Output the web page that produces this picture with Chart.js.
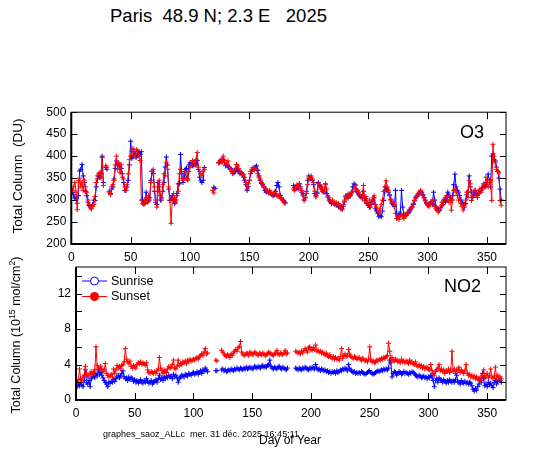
<!DOCTYPE html>
<html>
<head>
<meta charset="utf-8">
<script src="https://cdn.jsdelivr.net/npm/chart.js@4.4.1/dist/chart.umd.min.js"></script>
<style>
  body { margin:0; background:#fff; width:540px; height:453px; overflow:hidden; position:relative;
         font-family: Arial, "Liberation Sans", sans-serif; color:#000; }
  canvas { position:absolute; left:0; }
  .t { position:absolute; white-space:pre; line-height:1; }
  .rot { transform: translate(-50%,-50%) rotate(-90deg); }
  sup { font-size:0.7em; line-height:0; }
</style>
</head>
<body>
<div class="t" style="left:110px;top:7px;font-size:18.5px">Paris  48.9 N; 2.3 E   2025</div>
<canvas id="o3" width="540" height="170" style="top:100px"></canvas>
<canvas id="no2" width="540" height="175" style="top:250px"></canvas>
<div class="t rot" style="left:18px;top:176px;font-size:13.5px">Total Column  (DU)</div>
<div class="t rot" style="left:16px;top:335px;font-size:12.5px">Total Column (10<sup>15</sup> mol/cm<sup>2</sup>)</div>
<div class="t" style="left:103px;top:430px;font-size:9px">graphes_saoz_ALLc  mer. 31 déc. 2025 16:45:11</div>
<div class="t" style="left:290px;top:434px;font-size:12px;transform:translateX(-50%)">Day of Year</div>

<script>
// day of year of the first value in each series
const FIRST_DAY = 1;

// axis ticks
const dayTicks = [0, 50, 100, 150, 200, 250, 300, 350];
const o3Ticks = [200, 250, 300, 350, 400, 450, 500];
const no2Ticks = [0, 2, 4, 6, 8, 10, 12, 14];
const no2Labels = [0, 4, 8, 12];

// O3 total column (DU)
const o3Sunset = [
  322,330,340,318,278,344,350,330,340,322,
  345,330,318,300,290,282,280,286,290,308,
  340,355,360,363,350,397,333,null,378,375,
  null,318,312,330,335,345,380,400,370,385,
  362,380,352,348,330,322,335,360,392,400,
  410,418,405,398,415,412,400,390,300,292,
  290,300,305,295,310,300,340,365,370,330,
  300,284,320,345,310,300,335,360,355,385,
  370,330,300,247,300,315,305,295,310,320,
  360,370,350,345,365,360,350,345,365,375,
  380,390,385,380,392,408,375,365,360,355,
  366,370,null,null,null,null,null,null,322,316,
  null,null,null,385,389,392,385,400,390,380,
  385,389,375,370,365,362,368,370,381,378,
  372,365,362,360,358,352,340,325,337,345,
  365,370,374,368,372,370,360,352,348,340,
  337,330,328,325,320,318,322,316,314,312,
  318,315,310,308,312,305,303,300,295,292,
  null,null,null,null,null,null,325,322,330,335,
  330,337,325,322,310,300,305,315,335,350,
  352,355,348,340,320,307,315,338,335,325,
  330,318,320,335,325,310,305,298,295,300,
  292,290,295,288,292,285,280,278,290,300,
  310,305,314,308,312,316,320,329,333,325,
  322,318,312,305,310,333,300,308,295,290,
  300,284,292,305,310,290,284,275,272,280,
  290,300,320,330,344,330,322,310,300,292,
  295,288,270,258,262,256,265,268,262,258,
  262,268,272,270,278,282,285,292,300,305,
  310,314,318,322,316,310,305,298,292,288,
  285,290,295,300,292,285,280,276,273,278,
  284,295,290,300,306,310,300,295,310,277,
  300,322,325,318,310,300,305,292,285,277,
  290,300,318,306,344,337,299,310,320,322,
  310,306,318,325,318,325,337,330,352,340,
  330,340,345,299,427,400,385,370,366,362,
  299,288
];
const o3Sunrise = [
  318,312,305,303,293,310,366,370,381,355,
  340,320,310,295,288,285,285,290,300,299,
  330,348,355,352,360,400,340,null,374,370,
  null,320,315,325,330,348,372,389,378,382,
  375,372,360,340,322,322,330,345,380,434,
  395,400,410,405,398,402,410,404,410,300,
  295,292,318,300,298,305,345,366,360,320,
  295,290,340,330,300,305,320,340,375,398,
  380,325,299,305,310,300,292,300,315,337,
  337,404,360,340,350,370,372,348,380,385,
  382,378,380,385,380,390,370,352,344,340,
  345,374,null,null,null,null,null,null,null,329,
  326,null,null,385,385,388,393,392,385,378,
  381,375,374,372,366,360,362,365,372,368,
  366,360,362,358,352,345,335,322,330,345,
  360,366,370,372,375,378,368,355,345,338,
  335,330,322,318,320,316,318,314,312,310,
  312,320,333,340,330,310,305,300,298,295,
  null,null,null,null,null,null,333,328,325,330,
  325,337,330,318,314,300,306,320,345,355,
  348,350,345,335,315,310,318,340,333,330,
  325,320,318,337,315,307,300,296,292,295,
  295,292,288,290,285,288,282,280,286,296,
  307,310,305,312,310,318,330,337,335,320,
  318,312,310,308,305,320,298,303,292,288,
  284,290,296,300,305,280,275,270,262,265,
  262,275,299,320,329,325,318,312,302,295,
  290,285,322,258,262,270,266,322,284,268,
  264,266,270,272,275,280,284,290,298,306,
  308,312,316,320,318,312,306,300,294,290,
  288,292,296,290,318,300,286,280,278,276,
  282,288,295,302,296,300,318,310,306,300,
  310,335,359,330,322,318,310,300,295,290,
  284,292,312,318,355,330,318,306,312,322,
  315,310,316,318,322,328,332,335,330,340,
  359,345,330,400,405,392,389,375,365,350,
  325,300
];

// NO2 total column (1e15 mol/cm2)
const no2Sunset = [
  2.0,2.3,3.5,2.4,2.2,2.6,2.8,3.8,3.0,2.6,
  2.8,3.0,3.2,2.9,3.1,3.4,6.0,3.9,3.6,3.4,
  3.8,3.5,3.2,3.4,4.1,3.0,2.8,2.6,2.7,2.9,
  2.6,3.5,3.0,3.4,3.9,3.6,3.8,3.5,3.9,4.0,
  4.3,5.8,4.6,4.3,4.1,4.4,3.8,3.6,3.9,3.7,
  3.6,4.0,4.2,4.1,4.3,4.0,4.2,4.1,3.9,4.2,
  3.4,3.1,3.0,3.2,3.1,3.0,3.2,3.0,3.3,3.5,
  4.8,3.6,3.3,3.0,3.4,3.2,3.1,3.5,3.8,3.6,
  3.7,4.0,4.5,3.6,3.5,3.8,4.5,3.9,4.1,4.0,
  4.3,4.2,4.4,4.1,4.5,4.3,4.6,4.4,4.5,4.6,
  4.5,4.7,4.8,4.6,4.9,5.0,5.2,5.0,5.4,5.8,
  5.2,5.3,null,null,null,null,null,null,4.5,4.4,
  null,null,null,5.6,5.4,5.2,5.0,4.9,5.1,5.0,
  4.8,5.2,5.0,5.3,5.5,5.7,5.5,5.9,6.0,6.6,
  5.4,5.2,5.0,5.1,5.3,5.2,5.0,5.4,5.3,5.1,
  5.2,5.4,5.3,5.2,5.0,5.3,5.2,5.1,5.3,5.2,
  5.0,5.1,5.2,5.4,5.3,5.2,5.1,5.0,5.2,5.3,
  5.6,5.2,5.1,5.3,5.2,5.1,5.3,5.6,5.2,5.3,
  null,null,null,null,null,null,5.5,5.4,5.3,5.4,
  5.2,5.5,5.3,5.6,5.8,5.6,5.4,5.9,6.0,5.7,
  5.6,5.9,5.7,6.2,5.5,5.6,5.4,5.5,5.3,5.4,
  5.2,5.1,5.3,5.0,4.9,5.1,4.8,4.7,4.9,4.6,
  4.8,4.6,4.7,4.5,4.9,5.8,4.7,5.0,5.2,4.9,
  5.0,5.7,5.2,4.9,4.8,4.7,4.9,4.8,4.6,4.7,
  4.8,4.6,4.5,4.7,4.6,4.4,4.5,4.3,4.6,6.0,
  4.5,4.3,4.4,4.2,4.3,4.5,4.4,4.6,4.5,4.7,
  4.6,4.8,4.7,4.9,5.0,6.4,5.5,4.4,4.8,4.5,
  4.4,4.6,4.5,4.3,4.4,4.2,4.6,4.3,4.4,4.2,
  4.4,4.3,4.1,4.5,4.2,4.3,4.1,4.0,4.3,3.9,
  3.8,4.0,3.7,3.9,3.6,3.8,3.5,3.7,3.6,3.5,
  3.4,4.0,3.3,3.0,2.8,3.2,3.4,3.6,4.0,3.3,
  3.5,3.2,3.4,3.0,3.3,3.2,3.5,3.1,3.4,5.5,
  3.2,3.5,3.0,3.4,3.3,3.7,3.1,3.4,3.2,3.0,
  3.3,4.0,3.0,2.8,2.9,2.6,2.8,2.5,2.7,2.4,
  2.6,2.3,2.5,2.2,2.6,2.8,3.4,2.5,2.7,3.0,
  2.5,2.8,3.5,2.6,2.4,2.7,3.7,2.5,2.8,2.3,
  2.6,2.4
];
const no2Sunrise = [
  1.5,1.8,1.6,2.0,1.7,1.5,2.2,3.4,2.0,1.8,
  2.2,1.5,2.4,2.6,2.8,2.5,3.0,2.7,3.4,2.9,
  3.1,2.8,2.5,2.2,2.0,1.8,1.5,2.0,1.9,2.1,
  2.0,2.3,2.1,2.4,2.6,2.8,2.5,2.7,3.0,3.3,
  2.6,2.4,2.5,2.2,2.6,2.3,2.5,2.4,2.1,2.3,
  2.0,2.2,1.9,2.1,2.3,2.0,1.9,2.2,2.0,2.4,
  2.1,1.9,2.0,2.2,1.8,2.0,2.1,2.3,2.0,2.4,
  2.8,2.3,2.5,2.2,2.6,2.4,2.7,2.5,2.8,2.6,
  2.7,2.4,2.9,2.6,2.8,2.5,2.0,2.4,2.6,2.8,
  2.7,2.6,2.9,2.8,2.7,3.0,2.9,2.8,3.0,3.1,
  2.9,3.0,3.2,2.9,3.1,3.3,3.0,3.4,3.2,3.6,
  3.4,3.2,null,null,null,null,null,null,3.3,3.3,
  null,null,null,3.4,3.5,3.3,3.4,3.2,3.3,3.4,
  3.3,3.5,3.4,3.3,3.5,3.4,3.6,3.5,3.4,3.6,
  3.5,3.4,3.6,3.5,3.7,3.5,3.6,3.7,3.6,3.5,
  3.6,3.8,3.7,3.6,3.8,3.7,3.6,3.8,3.9,3.7,
  3.8,3.7,3.9,4.0,4.5,3.8,3.6,3.5,3.7,3.6,
  3.5,3.7,3.8,3.6,3.5,3.7,3.6,3.5,3.4,3.6,
  null,null,null,null,null,null,3.6,3.5,3.4,3.6,
  3.5,3.4,3.6,3.5,3.7,3.6,3.5,3.4,3.6,3.5,
  3.7,3.6,3.5,4.0,3.6,3.4,3.5,3.3,3.5,3.4,
  3.3,3.4,3.2,3.3,3.1,3.2,3.0,3.2,3.1,3.2,
  3.0,3.3,3.1,3.2,3.4,3.3,3.5,3.4,3.6,3.5,
  3.3,4.0,3.5,3.4,3.2,3.1,3.2,3.0,3.1,3.0,
  3.1,3.0,3.2,3.1,3.0,2.9,3.0,3.1,3.2,3.3,
  3.1,3.0,2.9,3.0,3.1,3.2,3.3,3.2,3.3,3.4,
  3.3,3.5,3.4,3.5,3.4,3.6,4.5,4.2,2.6,3.0,
  3.2,3.1,2.8,3.0,3.2,3.1,2.9,3.0,3.2,3.0,
  3.1,3.0,2.9,3.1,3.0,3.2,3.1,3.0,2.8,2.7,
  2.6,2.8,2.7,2.5,2.6,2.7,2.5,2.6,2.4,2.6,
  2.5,2.8,2.6,2.2,1.5,2.2,2.4,2.0,2.5,2.3,
  2.2,2.0,2.3,2.1,1.9,2.2,2.0,2.3,2.1,2.0,
  2.2,2.0,2.3,2.8,2.1,2.0,1.8,2.2,2.0,1.9,
  2.1,1.9,2.0,1.8,2.0,1.9,1.6,1.2,1.0,1.3,
  1.1,1.5,1.8,2.2,2.0,3.0,2.4,1.6,1.8,1.5,
  2.0,1.7,1.9,1.6,1.4,2.0,2.2,1.8,2.1,2.3,
  2.2,2.0
];

const BLUE = '#0000ff';
const RED = '#ff0000';
const FONT = 'Arial, "Liberation Sans", sans-serif';

function toPoints(arr) {
  return arr.map((v, i) => ({ x: FIRST_DAY + i, y: v }));
}

function series(label, arr, color) {
  return {
    label: label,
    data: toPoints(arr),
    borderColor: color,
    backgroundColor: color,
    borderWidth: 1,
    pointStyle: 'cross',
    pointRadius: 2.5,
    pointBorderWidth: 1,
    pointBorderColor: color,
    spanGaps: false,
    tension: 0
  };
}

// box with inward ticks on all four sides, panel name, optional legend
const framePlugin = {
  id: 'frame',
  afterDatasetsDraw(chart, args, opts) {
    const ctx = chart.ctx;
    const a = chart.chartArea;
    const xs = chart.scales.x, ys = chart.scales.y;
    ctx.save();
    ctx.strokeStyle = '#000';
    ctx.lineWidth = 1;
    ctx.strokeRect(a.left, a.top, a.right - a.left, a.bottom - a.top);
    ctx.lineWidth = 2;
    ctx.beginPath();
    ctx.moveTo(a.left, a.top);
    ctx.lineTo(a.left, a.bottom);
    ctx.lineTo(a.right, a.bottom);
    ctx.stroke();
    ctx.lineWidth = 1;
    ctx.beginPath();
    xs.ticks.forEach(t => {
      const p = Math.round(xs.getPixelForValue(t.value)) + 0.5;
      ctx.moveTo(p, a.bottom); ctx.lineTo(p, a.bottom - 7);
      ctx.moveTo(p, a.top); ctx.lineTo(p, a.top + 7);
    });
    ys.ticks.forEach(t => {
      const p = Math.round(ys.getPixelForValue(t.value)) + 0.5;
      ctx.moveTo(a.left, p); ctx.lineTo(a.left + 6, p);
      ctx.moveTo(a.right, p); ctx.lineTo(a.right - 6, p);
    });
    ctx.stroke();

    ctx.fillStyle = '#000';
    ctx.font = '18px ' + FONT;
    ctx.textAlign = 'right';
    ctx.textBaseline = 'alphabetic';
    ctx.fillText(opts.label, a.right - opts.dx, a.top + opts.dy);

    if (opts.legend) {
      ctx.font = '12.5px ' + FONT;
      ctx.textAlign = 'left';
      ctx.textBaseline = 'middle';
      opts.legend.forEach((item, i) => {
        const y = a.top + 14 + i * 15.5;
        const x0 = a.left + 6;
        ctx.strokeStyle = item.color;
        ctx.lineWidth = 1;
        ctx.beginPath();
        ctx.moveTo(x0, y); ctx.lineTo(x0 + 25, y);
        ctx.stroke();
        ctx.beginPath();
        ctx.arc(x0 + 12.5, y, item.filled ? 4.5 : 4, 0, Math.PI * 2);
        if (item.filled) { ctx.fillStyle = item.color; ctx.fill(); }
        else { ctx.fillStyle = '#fff'; ctx.fill(); ctx.stroke(); }
        ctx.fillStyle = '#000';
        ctx.fillText(item.text, x0 + 29, y + 0.5);
      });
    }
    ctx.restore();
  }
};

function xAxis(height) {
  return {
    type: 'linear', min: 0, max: 366,
    afterBuildTicks: s => { s.ticks = dayTicks.map(v => ({ value: v })); },
    afterFit: s => { s.height = height; },
    grid: { display: false, drawTicks: false },
    border: { display: false },
    ticks: { padding: 6, color: '#000', maxRotation: 0, autoSkip: false,
             font: { family: FONT, size: 12 } }
  };
}

function yAxis(min, max, tickList, labelList, width) {
  return {
    min: min, max: max,
    afterBuildTicks: s => { s.ticks = tickList.map(v => ({ value: v })); },
    afterFit: s => { s.width = width; },
    grid: { display: false, drawTicks: false },
    border: { display: false },
    ticks: { padding: 5, color: '#000', autoSkip: false,
             font: { family: FONT, size: 12 },
             callback: v => (labelList.includes(v) ? v : '') }
  };
}

new Chart(document.getElementById('o3'), {
  type: 'line',
  data: { datasets: [ series('Sunset', o3Sunset, RED), series('Sunrise', o3Sunrise, BLUE) ] },
  options: {
    responsive: false, animation: false, events: [],
    layout: { padding: { left: 0, right: 34, top: 10.7, bottom: 0 } },
    plugins: {
      legend: { display: false }, tooltip: { enabled: false },
      frame: { label: 'O3', dx: 22, dy: 25.5 }
    },
    scales: { x: xAxis(26), y: yAxis(200, 500, o3Ticks, o3Ticks, 71.3) }
  },
  plugins: [framePlugin]
});

new Chart(document.getElementById('no2'), {
  type: 'line',
  data: { datasets: [ series('Sunset', no2Sunset, RED), series('Sunrise', no2Sunrise, BLUE) ] },
  options: {
    responsive: false, animation: false, events: [],
    layout: { padding: { left: 0, right: 34, top: 17, bottom: 0 } },
    plugins: {
      legend: { display: false }, tooltip: { enabled: false },
      frame: { label: 'NO2', dx: 25, dy: 24.7,
               legend: [ { text: 'Sunrise', color: BLUE, filled: false },
                         { text: 'Sunset', color: RED, filled: true } ] }
    },
    scales: { x: xAxis(25), y: yAxis(0, 15, no2Ticks, no2Labels, 76) }
  },
  plugins: [framePlugin]
});
</script>
</body>
</html>
